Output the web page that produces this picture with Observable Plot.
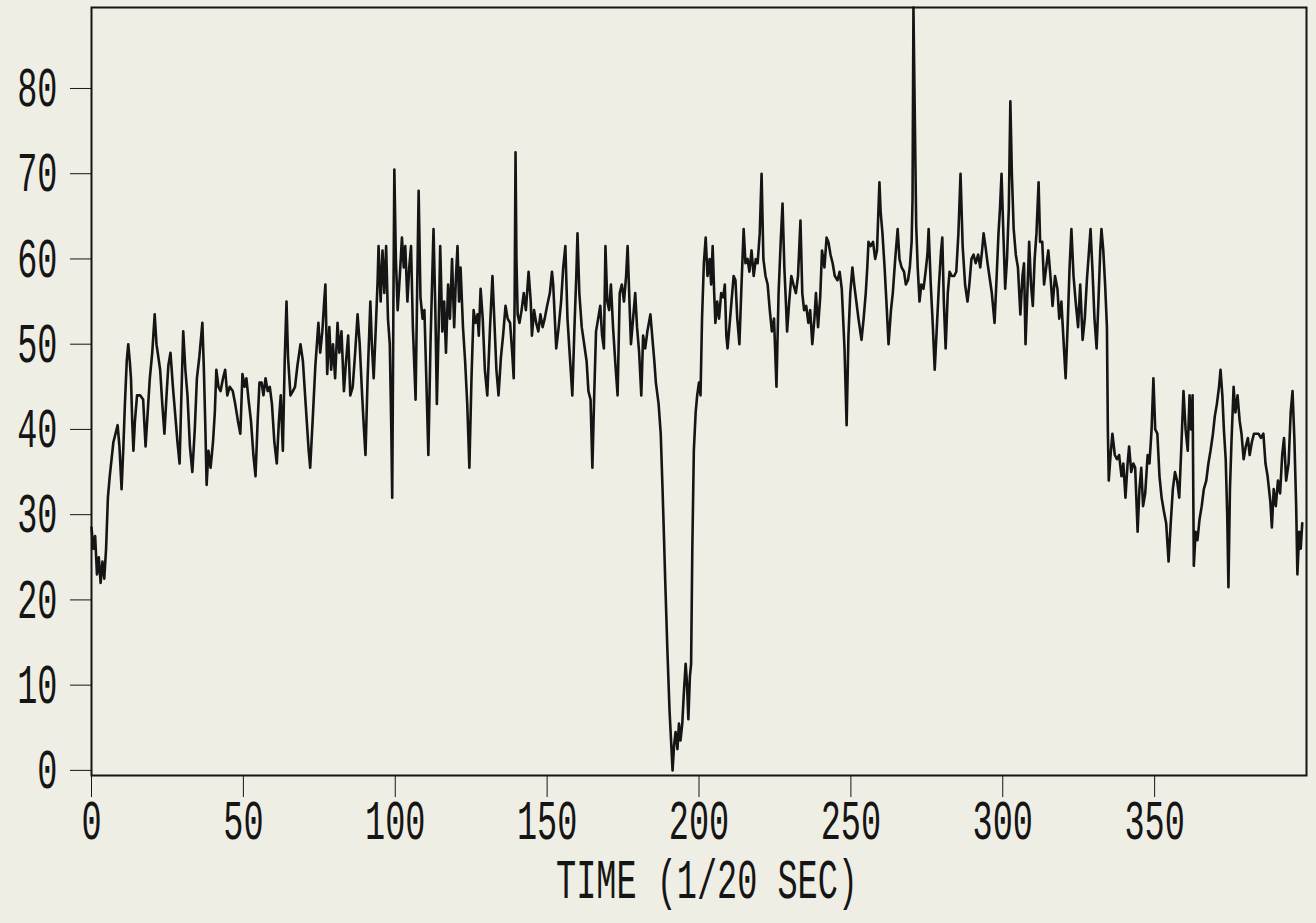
<!DOCTYPE html>
<html>
<head>
<meta charset="utf-8">
<script src="https://cdn.jsdelivr.net/npm/d3@7"></script>
<script src="https://cdn.jsdelivr.net/npm/@observablehq/plot@0.6"></script>
<style>
  html, body { margin: 0; padding: 0; background: #efeee4; overflow: hidden; }
  #chart svg line { stroke-width: 2px; }
</style>
</head>
<body>
<div id="chart"></div>
<script>
// Time axis (1/20 s) and signal values
const time = [
  0,0.6,1.2,1.8,2.4,3.0,3.6,4.2,4.8,5.4,6.0,6.6,7.2,7.9,8.6,9.2,9.9,10.5,11.0,11.6,12.1,12.6,13.0,13.4,13.8,14.3,15.0,16.0,17.0,17.8,18.5,19.2,20.0,20.8,21.4,22.0,22.6,23.3,24.0,24.7,25.3,26.0,26.8,27.5,28.3,29.0,29.6,30.2,30.9,31.6,32.4,33.2,34.0,34.7,35.5,36.0,36.5,37.0,37.5,37.9,38.5,39.2,40.0,
  40.6,41.1,41.8,42.5,43.3,44.0,44.7,45.5,46.5,47.3,48.2,49.0,49.7,50.4,51.0,51.7,52.5,53.3,54.0,54.7,55.3,56.0,56.6,57.3,58.0,58.7,59.4,60.2,61.0,61.7,62.3,63.0,63.6,64.2,64.7,65.5,66.3,67.0,67.8,68.8,69.6,70.5,71.5,72.0,72.8,73.7,74.4,74.7,75.3,76.0,76.6,77.0,77.6,78.3,78.9,79.5,80.2,81.0,81.6,
  82.3,83.1,83.8,84.5,85.2,86.0,86.8,87.6,88.3,89.1,89.7,90.2,90.9,91.8,92.3,92.9,93.6,94.2,94.5,95.2,95.8,96.4,97.0,97.6,98.2,98.7,99.0,99.4,99.7,100.2,100.8,101.5,102.2,102.8,103.3,104.0,104.6,105.2,105.8,106.7,107.2,107.7,108.3,109.0,109.6,110.3,110.9,111.6,112.6,113.2,113.7,114.3,114.8,115.5,116.1,116.7,117.4,118.0,118.7,119.4,120.0,120.5,121.0,121.5,122.3,123.0,123.7,
  124.4,125.1,125.8,126.4,127.1,127.5,128.1,128.8,129.5,130.3,131.2,132.0,132.6,133.3,134.0,134.8,135.5,136.3,137.0,137.8,138.5,139.0,139.3,139.6,139.9,140.3,140.9,141.6,142.3,143.0,143.9,144.6,145.0,145.7,146.4,147.1,147.8,148.5,149.2,150.0,150.9,151.6,152.0,153.0,153.8,154.6,155.3,156.0,156.7,157.4,158.3,159.0,159.6,160.0,160.6,161.4,162.2,163.0,163.6,
  164.3,164.9,165.5,166.1,166.8,167.5,168.1,168.7,169.2,169.8,170.4,171.0,171.7,172.5,173.2,173.9,174.6,175.3,176.0,176.5,177.1,177.6,178.3,179.0,179.6,180.3,181.0,181.6,182.3,183.0,184.0,184.7,185.3,185.8,186.7,187.4,188.0,188.5,188.9,189.6,190.3,190.8,191.3,191.8,192.3,192.9,193.4,193.9,194.5,195.0,195.6,196.0,196.5,197.0,197.4,197.8,198.3,198.9,199.4,200.0,200.5,
  201.0,201.6,202.2,202.8,203.5,204.0,204.5,205.0,205.4,206.0,206.6,207.3,208.0,208.5,209.0,209.4,210.0,210.7,211.4,212.0,212.6,213.3,214.0,214.7,215.3,216.0,216.6,217.3,218.0,218.7,219.3,220.0,220.6,221.2,221.9,222.6,223.3,224.0,224.7,225.5,226.2,226.9,227.5,228.1,228.6,229.0,229.7,230.4,231.1,231.9,232.6,233.4,234.0,234.6,235.3,236.0,236.6,237.3,238.0,238.5,239.2,239.9,240.5,241.3,242.0,242.6,243.3,
  244.0,244.7,245.6,246.3,247.0,247.9,248.6,249.2,249.8,250.5,251.1,251.8,252.5,253.5,254.2,254.9,255.4,255.8,256.5,257.3,258.0,258.6,259.4,259.8,260.4,261.1,261.7,262.4,263.2,263.8,264.6,265.4,266.0,266.7,267.5,268.1,268.8,269.4,270.0,270.3,270.6,271.0,271.5,272.0,272.6,273.2,273.9,274.6,275.2,275.6,276.3,277.0,277.6,278.3,279.0,279.7,280.1,280.6,281.2,281.9,282.5,283.2,
  284.0,284.7,285.4,286.1,286.8,287.6,288.4,289.0,289.7,290.4,291.1,291.9,292.6,293.2,293.7,294.3,295.0,295.6,296.4,297.3,298.0,298.6,299.1,299.6,300.2,300.8,301.4,302.0,302.5,303.0,303.6,304.3,305.0,305.8,306.5,307.0,307.5,308.1,308.7,309.3,309.9,310.5,311.1,311.8,312.3,313.0,313.6,314.3,315.0,315.7,316.4,317.2,318.0,318.6,319.3,320.0,320.7,321.4,322.0,322.6,323.3,324.0,324.8,325.5,
  326.3,327.0,327.7,328.4,328.9,329.5,330.2,330.9,331.6,332.1,332.5,333.1,333.7,334.3,334.6,334.9,335.5,336.1,336.9,337.6,338.3,339.1,339.7,340.4,341.1,341.6,342.3,343.0,343.6,344.4,345.0,345.6,346.2,346.9,347.7,348.3,349.0,349.6,350.2,350.9,351.6,352.3,353.0,353.8,354.6,355.3,356.0,356.7,357.4,358.1,358.8,359.5,360.2,360.9,361.5,362.0,362.5,362.9,363.5,364.1,364.8,365.5,366.2,
  367.0,367.7,368.4,369.2,369.8,370.5,371.2,371.7,372.3,372.8,373.4,373.9,374.3,374.8,375.3,376.0,376.6,377.3,378.0,378.6,379.3,380.0,380.7,381.3,382.0,382.7,383.5,384.2,385.0,385.8,386.5,387.2,388.1,388.6,389.2,389.9,390.6,391.3,392.0,392.6,393.3,394.1,394.8,395.4,396.0,396.6,397.0,397.6,398.1,398.6
];
const value = [
  28.5,26,27.5,23,25,22,24.5,22.5,26,32,34.5,36.5,38.5,39.5,40.5,38,33,38,43,48,50,48,46,41,37.5,41,44,44,43.5,38,42,46,49,53.5,50,48.5,47,43,39.5,44,47.5,49,45,42,38.5,36,44,51.5,47,44,38,35,40,46,48.5,50.5,52.5,47,40,33.5,37.5,35.5,38.5,
  42,47,45,44.5,46,47,44,45,44.5,43,41,39.5,46.5,45,46,43.5,41,37,34.5,41,45.5,45.5,44,46,44.5,45,43,38.5,36,41,44,37.5,48,55,48.5,44,44.5,45,47.5,50,48,43,37.5,35.5,41,47.5,51,52.5,49,51.5,55,57,46.5,52,47,50,46,52.5,49,
  51.5,44.5,48,51,44,45,49,53.5,50,44,40,37,46,55,50,46,52,57.5,61.5,55,61,56,61.5,53,50,40,32,55,70.5,60,54,58,62.5,59,61.5,55,59,61.5,52,43.5,56,68,55.5,53,54,45,37,50,63.5,54,43,52,61.5,51.5,55,49,57,53,60,52,58,61.5,55,59,52,48,43,
  35.5,46,54,52.5,53.5,51,56.5,53,47,44,52,58,53,47,44,48.5,51,54.5,53,52.5,49,46,55,72.5,60,53.5,52.5,54,56,54,58.5,55,51,54,52.5,51.5,53.5,52,53,54.5,56,58.5,57,49.5,52,55,59,61.5,53,49,44,52,58,63,56,52,50,48,44.5,
  43.5,35.5,44,51.5,53,54.5,51,49.5,61.5,55,54,57,52,47.5,44,56,57,55,58,61.5,55,50,53,56,52,49,44,51,49.5,51.5,53.5,50.5,48,45.5,43,39.5,33,27,22,14,7,3.5,0,3,4.5,2.5,5.5,3.5,5.5,9,12.5,10.5,6,11,12.5,26,37.5,42,44,45.5,44,
  53,59.5,62.5,58,60,57,61.5,56,52.5,55,53,56,55.5,57,51,49.5,52,55,58,57.5,53,50,57,63.5,59.5,60,58.5,61,58,60,59.5,63,70,60,58,57,54,51.5,53,45,56,62,66.5,59,55,51.5,55,58,57,56,58,64.5,56,54,54.5,52.5,54,50,53,56,52,55.5,61,59,62.5,62,60.5,
  59.5,58,57.5,58.5,56.5,49.5,40.5,51,56,59,57,55,53,50.5,53,56,59,62,61.5,62,60,61,69,65.5,63,59,55,50,54,56,60,63.5,60,59,58.5,57,57.5,59,62,67,89.5,78,64,59,55,57,56.5,58.5,60.5,63.5,57,52,47,52,57,61,62.5,55,49.5,56,58.5,58,
  58,58.5,63,70,61.5,57,55,57,60,60.5,59.5,60.5,59,61,63,61.5,59.5,58,56,52.5,58,63,66,70,63,56.5,60,66,78.5,70,63.5,60.5,59,53.5,58,59.5,50,56,62,57,54.5,60,63,69,62,62,57,59,61,58,54.5,58,56.5,53,55,50.5,46,52.5,59,63.5,58,55,52,57,
  50.5,53,57.5,61,63.5,59,53,49.5,56,61,63.5,61,57,52,40,34,37,39.5,37,36.5,37,34.5,36,32,36,38,35,36,35.5,28,33,35.5,31,32.5,37,36,40,46,40,39.5,34.5,32,30.5,29,24.5,29,33,35,34,32,38,44.5,40,37.5,44,40,44,24,28,27,29.5,31,33,
  34,36,37.5,39.5,41.5,43,45,47,44,40,36.5,30,21.5,33,38.5,45,42,44,41,39.5,36.5,38,39,37,38.5,39.5,39.5,39.5,39,39.5,36,34.5,31.5,28.5,33,31,34,32.5,37,39,34,36,42,44.5,39,31,23,28,26,29
];
const xTicks = [0, 50, 100, 150, 200, 250, 300, 350];
const yTicks = [0, 10, 20, 30, 40, 50, 60, 70, 80];
const xLabel = "TIME (1/20 SEC)";

const data = time.map((t, i) => ({t, v: value[i]}));

const chart = Plot.plot({
  width: 1316,
  height: 923,
  marginLeft: 91,
  marginRight: 10,
  marginTop: 7,
  marginBottom: 148,
  style: {
    background: "#efeee4",
    color: "#151515",
    fontFamily: "'Liberation Mono', 'DejaVu Sans Mono', monospace",
    fontSize: "55px"
  },
  x: {domain: [0, 400], ticks: xTicks, tickSize: 22, tickPadding: 2, tickFormat: d => String(d), label: null},
  y: {domain: [-0.6, 89.5], ticks: yTicks, tickSize: 21, tickPadding: 13, tickFormat: d => String(d), label: null},
  marks: [
    Plot.frame({stroke: "#151515", strokeWidth: 2}),
    Plot.line(data, {x: "t", y: "v", stroke: "#151515", strokeWidth: 2.6, strokeLinejoin: "round"}),
    Plot.text([xLabel], {frameAnchor: "bottom", dx: 8, dy: 122, fill: "#151515", fontSize: 55})
  ]
});
document.getElementById("chart").appendChild(chart);

// Narrow, plotter-like lettering: compress all text horizontally around its anchor point
chart.querySelectorAll("text").forEach(el => {
  const tr = el.getAttribute("transform") || "";
  const xa = el.getAttribute("x");
  let shift = "";
  if (xa !== null && !isNaN(+xa) && +xa !== 0) {
    shift = ` translate(${+xa},0)`;
    el.setAttribute("x", 0);
  }
  el.setAttribute("transform", `${tr}${shift} scale(0.61,1)`);
});
</script>
</body>
</html>
